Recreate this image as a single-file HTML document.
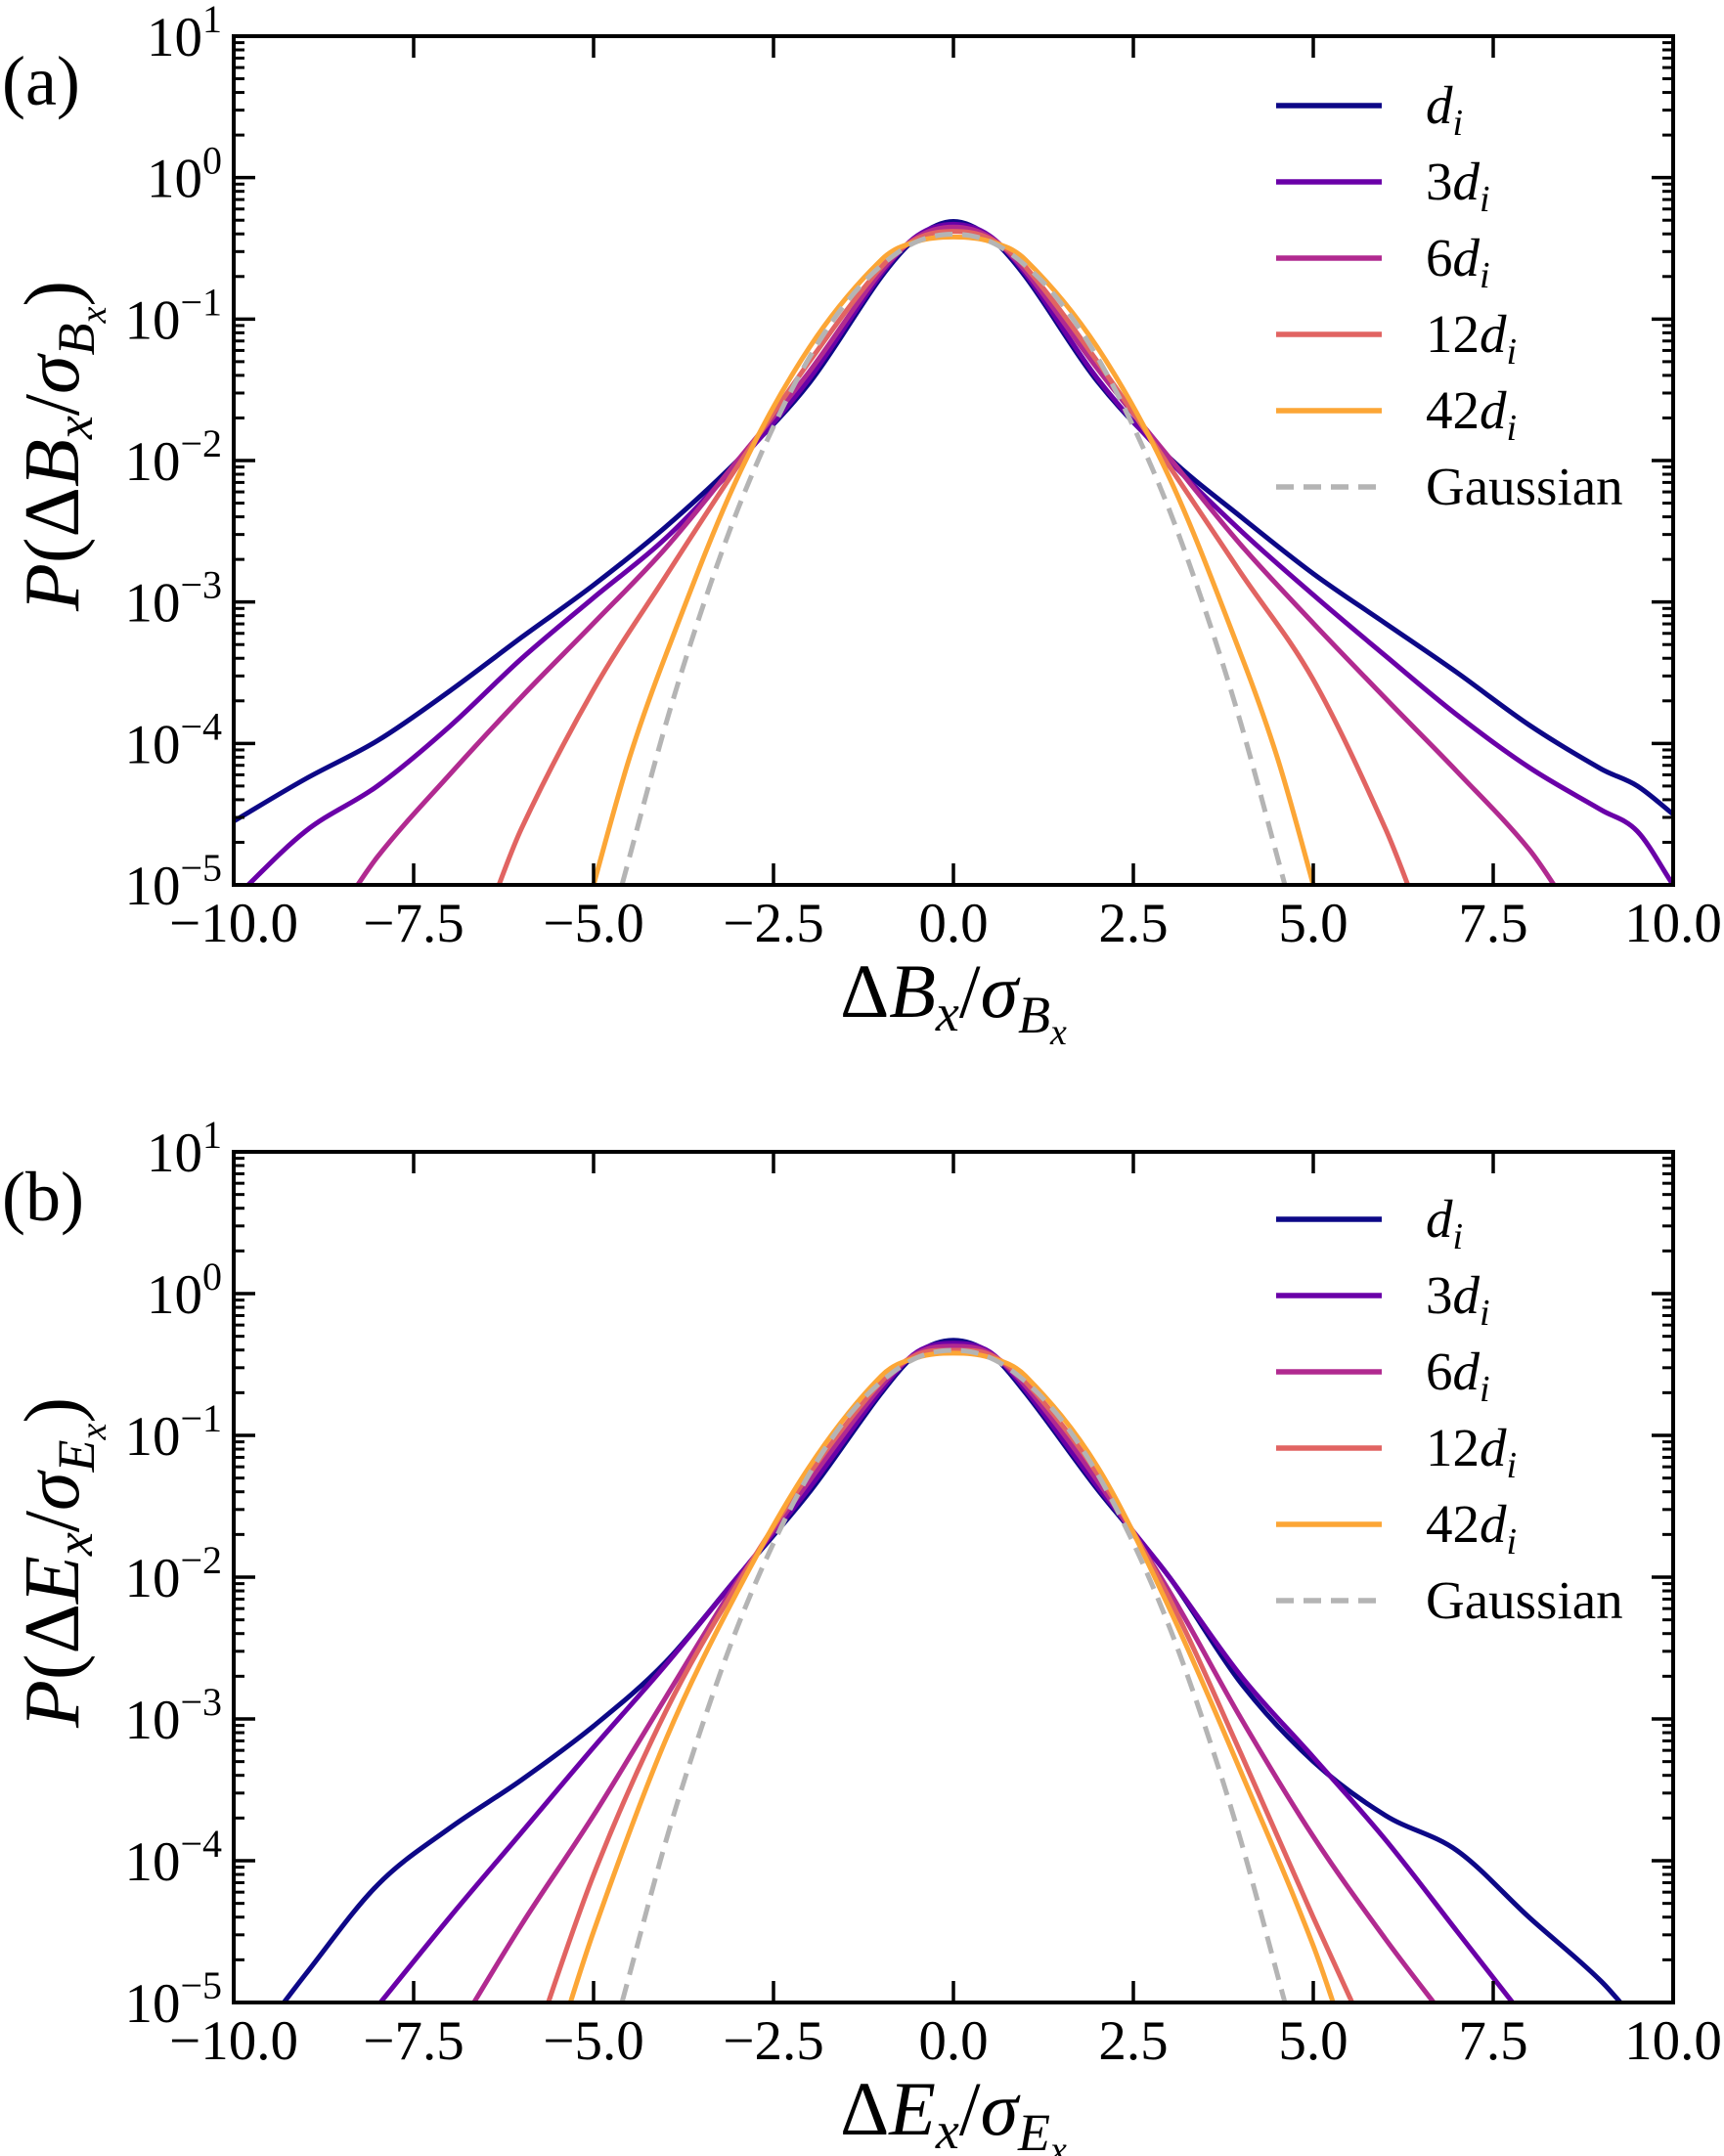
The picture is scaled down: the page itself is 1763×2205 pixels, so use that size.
<!DOCTYPE html>
<html><head><meta charset="utf-8"><style>
html,body{margin:0;padding:0;background:#fff}
svg{display:block}
text{font-family:"Liberation Serif","DejaVu Serif",serif;fill:#000}
</style></head><body>
<svg id="fig" width="1763" height="2205" viewBox="0 0 1763 2205" xmlns="http://www.w3.org/2000/svg"></svg>
<script>
// ---- data (x values, log10 P values) ----
const seriesNames = ["d_i","3d_i","6d_i","12d_i","42d_i","Gaussian"];
const seriesLabels = ["","3","6","12","42"];
const seriesColors = ["#0d0887","#6a00a8","#b12a90","#e16462","#fca636","#b4b4b4"];
const xTicks = [-10,-7.5,-5,-2.5,0,2.5,5,7.5,10];
const xTickLabels = ["\u221210.0","\u22127.5","\u22125.0","\u22122.5","0.0","2.5","5.0","7.5","10.0"];
const yTickExps = [1,0,-1,-2,-3,-4,-5];
const yTickLabels = ["1","0","\u22121","\u22122","\u22123","\u22124","\u22125"];

// Panel (a)
const aX0 = [-10,-9,-8,-7,-6,-5,-4,-3,-2,-1,-0.5,0,0.5,1,2,3,4,5,6,7,8,9,9.5,10];
const aY0 = [-4.55,-4.25,-3.98,-3.63,-3.25,-2.88,-2.47,-2.0,-1.45,-0.7,-0.42,-0.31,-0.42,-0.7,-1.44,-1.98,-2.4,-2.8,-3.15,-3.5,-3.87,-4.18,-4.3,-4.5];
const aX1 = [-10,-9,-8,-7,-6,-5,-4,-3,-2,-1,-0.5,0,0.5,1,2,3,4,5,6,7,8,9,9.5,10];
const aY1 = [-5.1,-4.62,-4.3,-3.88,-3.4,-2.97,-2.55,-2.02,-1.42,-0.68,-0.41,-0.33,-0.41,-0.68,-1.42,-2.0,-2.5,-2.95,-3.38,-3.8,-4.17,-4.47,-4.62,-5.0];
const aX2 = [-8.6,-8,-7,-6,-5,-4,-3,-2,-1,-0.5,0,0.5,1,2,3,4,5,6,7,8,8.6];
const aY2 = [-5.25,-4.8,-4.22,-3.67,-3.15,-2.62,-2.0,-1.37,-0.66,-0.42,-0.35,-0.42,-0.66,-1.35,-1.98,-2.6,-3.15,-3.68,-4.2,-4.75,-5.2];
const aX3 = [-6.5,-6,-5,-4,-3,-2,-1,-0.5,0,0.5,1,2,3,4,5,6,6.5];
const aY3 = [-5.25,-4.6,-3.62,-2.82,-2.04,-1.3,-0.63,-0.43,-0.38,-0.43,-0.63,-1.3,-2.04,-2.8,-3.55,-4.6,-5.25];
const aX4 = [-5.2,-5,-4.5,-4,-3,-2,-1,-0.5,0,0.5,1,2,3,4,4.5,5,5.2];
const aY4 = [-5.4,-5.0,-4.1,-3.38,-2.12,-1.2,-0.58,-0.45,-0.42,-0.45,-0.58,-1.2,-2.12,-3.38,-4.1,-5.0,-5.4];
const aX5 = [-4.6,-4,-3.5,-3,-2.5,-2,-1.5,-1,-0.5,0,0.5,1,1.5,2,2.5,3,3.5,4,4.6];
const aY5 = [-4.99,-3.87,-3.06,-2.35,-1.76,-1.27,-0.89,-0.62,-0.45,-0.4,-0.45,-0.62,-0.89,-1.27,-1.76,-2.35,-3.06,-3.87,-4.99];

// Panel (b)
const bX0 = [-9.6,-9,-8,-7,-6,-5,-4,-3,-2,-1,-0.5,0,0.5,1,2,3,4,5,6,7,8,9,9.6];
const bY0 = [-5.2,-4.8,-4.17,-3.77,-3.43,-3.05,-2.6,-2.0,-1.4,-0.7,-0.42,-0.33,-0.42,-0.7,-1.38,-2.0,-2.75,-3.3,-3.68,-3.93,-4.4,-4.85,-5.2];
const bX1 = [-8.2,-7,-6,-5,-4,-3,-2,-1,-0.5,0,0.5,1,2,3,4,5,6,7,8];
const bY1 = [-5.15,-4.4,-3.8,-3.2,-2.62,-2.0,-1.37,-0.68,-0.41,-0.35,-0.41,-0.68,-1.36,-2.0,-2.7,-3.27,-3.85,-4.5,-5.15];
const bX2 = [-6.9,-6,-5,-4,-3,-2,-1,-0.5,0,0.5,1,2,3,4,5,6,6.9];
const bY2 = [-5.2,-4.45,-3.68,-2.85,-2.03,-1.32,-0.65,-0.42,-0.37,-0.42,-0.65,-1.32,-2.1,-3.0,-3.83,-4.55,-5.15];
const bX3 = [-5.9,-5,-4,-3,-2,-1,-0.5,0,0.5,1,2,3,4,5,5.9];
const bY3 = [-5.4,-4.1,-2.95,-2.05,-1.27,-0.62,-0.43,-0.4,-0.43,-0.62,-1.27,-2.15,-3.25,-4.4,-5.4];
const bX4 = [-5.6,-5,-4,-3,-2,-1,-0.5,0,0.5,1,2,3,4,5,5.6];
const bY4 = [-5.45,-4.5,-3.15,-2.1,-1.22,-0.58,-0.45,-0.42,-0.45,-0.58,-1.22,-2.22,-3.38,-4.6,-5.5];
const bX5 = aX5.slice();
const bY5 = aY5.slice();

// ---- drawing ----
const NS = "http://www.w3.org/2000/svg";
const svg = document.getElementById("fig");
const L = 239, R = 1711;
function mk(tag, attrs, parent){const e=document.createElementNS(NS,tag);for(const k in attrs)e.setAttribute(k,attrs[k]);(parent||svg).appendChild(e);return e;}

function spline(pts){
  const n=pts.length, m=[];
  for(let i=0;i<n;i++){
    const a=pts[Math.max(0,i-1)], b=pts[Math.min(n-1,i+1)];
    m.push((b[1]-a[1])/(b[0]-a[0]));
  }
  let d="M"+pts[0][0].toFixed(1)+","+pts[0][1].toFixed(1);
  for(let i=0;i<n-1;i++){
    const h=pts[i+1][0]-pts[i][0];
    const c1=[pts[i][0]+h/3,pts[i][1]+m[i]*h/3];
    const c2=[pts[i+1][0]-h/3,pts[i+1][1]-m[i+1]*h/3];
    d+=" C"+c1[0].toFixed(1)+","+c1[1].toFixed(1)+" "+c2[0].toFixed(1)+","+c2[1].toFixed(1)+" "+pts[i+1][0].toFixed(1)+","+pts[i+1][1].toFixed(1);
  }
  return d;
}

function panel(id, T, B, xs, ys, panelLetter, varName, legendTop){
  const g = mk("g",{});
  
  
  const xS = v => L + (v+10)/20*(R-L);
  const yS = lg => T + (1-lg)/6*(B-T);
  const cp = mk("clipPath",{id:"clip"+id},g);
  mk("rect",{x:L,y:T,width:R-L,height:B-T},cp);
  const lines = mk("g",{"clip-path":"url(#clip"+id+")"},g);
  for(let s=0;s<6;s++){
    const pts = xs[s].map((v,i)=>[xS(v),yS(ys[s][i])]);
    const p = mk("path",{d:spline(pts),fill:"none",stroke:seriesColors[s],"stroke-width":5,"stroke-linejoin":"round"},lines);
    if(s==5) p.setAttribute("stroke-dasharray","18,10");
    
    
  }
  const fr = mk("rect",{x:L,y:T,width:R-L,height:B-T,fill:"none",stroke:"#000","stroke-width":4},g);
  
  
  xTicks.forEach((v,i)=>{
    const x=xS(v);
    mk("line",{x1:x,y1:B,x2:x,y2:B-22,stroke:"#000","stroke-width":3.5},g);
    mk("line",{x1:x,y1:T,x2:x,y2:T+22,stroke:"#000","stroke-width":3.5},g);
    const t=mk("text",{x:x,y:B+58,"text-anchor":"middle","font-size":57},g);
    t.textContent=xTickLabels[i];
    
    
  });
  yTickExps.forEach((e,i)=>{
    const y=yS(e);
    mk("line",{x1:L,y1:y,x2:L+22,y2:y,stroke:"#000","stroke-width":3.5},g);
    mk("line",{x1:R,y1:y,x2:R-22,y2:y,stroke:"#000","stroke-width":3.5},g);
    if(e>-5){for(let m=2;m<10;m++){const yy=yS(e-1+Math.log10(m));
      mk("line",{x1:L,y1:yy,x2:L+11,y2:yy,stroke:"#000","stroke-width":3},g);
      mk("line",{x1:R,y1:yy,x2:R-11,y2:yy,stroke:"#000","stroke-width":3},g);}}
    const t=mk("text",{x:L-12,y:y+20,"text-anchor":"end","font-size":57},g);
    
    
    const b=mk("tspan",{},t);b.textContent="10";
    const sp=mk("tspan",{dy:-24,"font-size":40},t);sp.textContent=yTickLabels[i];
  });
  const pl=mk("text",{x:2,y:T+70,"font-size":72},g);
  pl.textContent="("+panelLetter+")";
  
  
  const xt=mk("text",{x:975,y:B+135,"text-anchor":"middle","font-size":78},g);
  
  
  xt.innerHTML='<tspan>\u0394</tspan><tspan font-style="italic">'+varName+'</tspan><tspan font-style="italic" font-size="54" dy="14">x</tspan><tspan dy="-14">/</tspan><tspan font-style="italic">\u03c3</tspan><tspan font-style="italic" font-size="54" dy="16">'+varName+'</tspan><tspan font-style="italic" font-size="38" dy="12">x</tspan>';
  const cy=(T+B)/2;
  const yt=mk("text",{x:0,y:0,"text-anchor":"middle","font-size":80,transform:"translate(80,"+(cy-15)+") rotate(-90)"},g);
  
  
  yt.innerHTML='<tspan font-style="italic">P</tspan><tspan>(\u0394</tspan><tspan font-style="italic">'+varName+'</tspan><tspan font-style="italic" font-size="54" dy="14">x</tspan><tspan dy="-14">/</tspan><tspan font-style="italic">\u03c3</tspan><tspan font-style="italic" font-size="54" dy="16">'+varName+'</tspan><tspan font-style="italic" font-size="38" dy="12">x</tspan><tspan dy="-28">)</tspan>';
  for(let s=0;s<6;s++){
    const y=legendTop+s*78;
    const lg=mk("g",{},g);
    
    
    const ln=mk("line",{x1:1305,y1:y,x2:1413,y2:y,stroke:seriesColors[s],"stroke-width":5.5},lg);
    if(s==5) ln.setAttribute("stroke-dasharray","18,10");
    const t=mk("text",{x:1458,y:y+18,"font-size":55},lg);
    if(s==5){t.textContent="Gaussian";}
    else t.innerHTML='<tspan>'+seriesLabels[s]+'</tspan><tspan font-style="italic">d</tspan><tspan font-style="italic" font-size="38" dy="12">i</tspan>';
  }
}
panel("a",37,905,[aX0,aX1,aX2,aX3,aX4,aX5],[aY0,aY1,aY2,aY3,aY4,aY5],"a","B",108);
panel("b",1178,2048,[bX0,bX1,bX2,bX3,bX4,bX5],[bY0,bY1,bY2,bY3,bY4,bY5],"b","E",1247);
</script>
</body></html>
